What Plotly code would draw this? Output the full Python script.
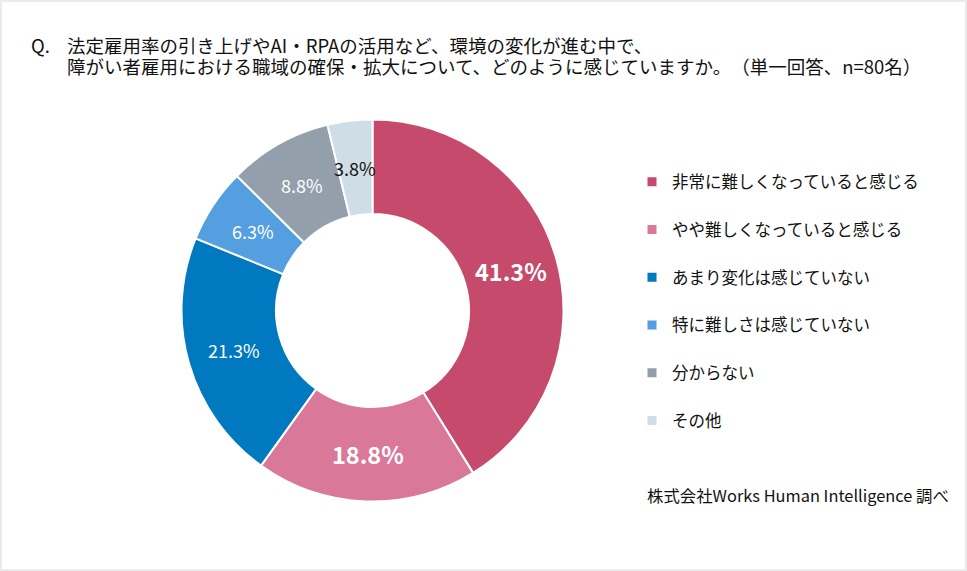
import math
import plotly.graph_objects as go

# ---- data ----
categories = [
    "非常に難しくなっていると感じる",
    "やや難しくなっていると感じる",
    "あまり変化は感じていない",
    "特に難しさは感じていない",
    "分からない",
    "その他",
]
shares = [41.3, 18.8, 21.3, 6.3, 8.8, 3.8]
colors = ["#c54a6b", "#da7899", "#0079c1", "#549fe0", "#93a0ab", "#cfdde6"]
label_colors = ["white", "white", "white", "white", "white", "#111111"]
label_sizes = [23.5, 23.5, 18, 18, 18, 18]
label_bold = [True, True, False, False, False, False]

title_q = "Q."
title_lines = [
    "法定雇用率の引き上げやAI・RPAの活用など、環境の変化が進む中で、",
    "障がい者雇用における職域の確保・拡大について、どのように感じていますか。（単一回答、n=80名）",
]
source_text = "株式会社Works Human Intelligence 調べ"

W, H = 967, 571
FONT = "Noto Sans CJK JP"

# pie geometry (pixels)
cx, cy, R = 372.5, 310.5, 191
hole = 0.505

fig = go.Figure()
fig.add_trace(go.Pie(
    labels=categories,
    values=shares,
    sort=False,
    direction="clockwise",
    rotation=0,
    hole=hole,
    marker=dict(colors=colors, line=dict(color="white", width=2)),
    textinfo="none",
    hoverinfo="label+value",
    showlegend=False,
    domain=dict(x=[(cx - R) / W, (cx + R) / W], y=[(H - cy - R) / H, (H - cy + R) / H]),
))

# legend entries via dummy traces (to control spacing)
for cat, col in zip(categories, colors):
    fig.add_trace(go.Scatter(
        x=[None], y=[None], mode="markers", name=cat, legendgroup=cat,
        marker=dict(symbol="square", size=9, color=col),
        showlegend=True,
    ))

# percent labels at ring middle
total = sum(shares)
rmid = R * (1 + hole) / 2
annotations = []
cum = 0.0
for v, tc, ts, tb in zip(shares, label_colors, label_sizes, label_bold):
    mid = (cum + v / 2) / total
    cum += v
    ang = 2 * math.pi * mid
    px = cx + rmid * math.sin(ang)
    py = cy - rmid * math.cos(ang)
    txt = f"{v:.1f}%"
    if tb:
        txt = f"<b>{txt}</b>"
    annotations.append(dict(
        x=px / W, y=1 - py / H, xref="paper", yref="paper", text=txt,
        showarrow=False, xanchor="center", yanchor="middle",
        font=dict(family=FONT, size=ts, color=tc),
    ))

annotations.append(dict(
    x=29 / W, y=1 - 45 / H, xref="paper", yref="paper", text=title_q,
    showarrow=False, xanchor="left", yanchor="middle",
    font=dict(family=FONT, size=18.5, color="#111111"),
))
for i, (line, ly) in enumerate(zip(title_lines, [45, 66])):
    annotations.append(dict(
        x=65 / W, y=1 - ly / H, xref="paper", yref="paper", text=line,
        showarrow=False, xanchor="left", yanchor="middle", align="left",
        font=dict(family=FONT, size=18.5, color="#111111"),
    ))
annotations.append(dict(
    x=645 / W, y=1 - 495 / H, xref="paper", yref="paper", text=source_text,
    showarrow=False, xanchor="left", yanchor="middle",
    font=dict(family=FONT, size=16.4, color="#111111"),
))

fig.update_layout(
    width=W, height=H,
    margin=dict(l=0, r=0, t=0, b=0),
    paper_bgcolor="#ebebeb",
    plot_bgcolor="rgba(0,0,0,0)",
    xaxis=dict(visible=False),
    yaxis=dict(visible=False),
    annotations=annotations,
    shapes=[dict(type="rect", xref="paper", yref="paper",
                 x0=2 / W, x1=965 / W, y0=1 - 569 / H, y1=1 - 2 / H,
                 fillcolor="white", line=dict(width=0), layer="below")],
    legend=dict(
        x=632 / W, y=1 - 164.5 / H, xanchor="left", yanchor="top",
        font=dict(family=FONT, size=16.5, color="#111111"),
        tracegroupgap=23.3, itemclick=False, itemdoubleclick=False,
        bgcolor="rgba(0,0,0,0)",
    ),
    showlegend=True,
)

post = (
    "document.body.style.margin='0';"
    "var s=document.createElement('style');"
    "s.textContent='text{text-spacing-trim:space-all;}';"
    "document.head.appendChild(s);"
)
fig.write_html("out.html", post_script=post, config={"displayModeBar": False})
